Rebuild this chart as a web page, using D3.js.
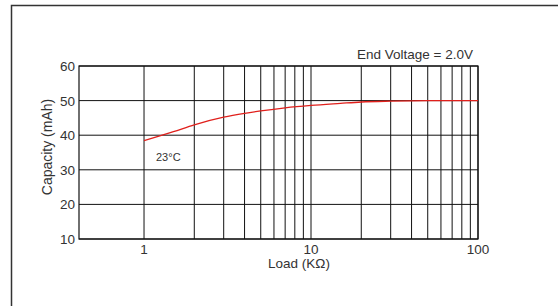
<!DOCTYPE html>
<html>
<head>
<meta charset="utf-8">
<script src="https://cdn.jsdelivr.net/npm/d3@7"></script>
<style>
body { margin: 0; background: #fff; }
text { font-family: "Liberation Sans", Arial, sans-serif; fill: #333; }
</style>
</head>
<body>
<svg width="558" height="306"></svg>
<script>
// curve
var loads = [1, 1.5, 2, 3, 4, 5, 7, 10, 15, 20, 30, 50, 100];
var capacity = [38.4, 41.0, 43.0, 45.2, 46.3, 47.0, 47.9, 48.6, 49.2, 49.6, 49.85, 50.0, 50.0];
var yTicks = [10, 20, 30, 40, 50, 60];
var xLabels = [1, 10, 100];
var gridLoads = [1, 2, 3, 4, 5, 6, 7, 8, 9, 10, 20, 30, 40, 50, 60, 70, 80, 90, 100];

var svg = d3.select("svg");

// outer frame
svg.append("path")
    .attr("d", "M11.5,320 V5.5 H570")
    .attr("fill", "none").attr("stroke", "#333").attr("stroke-width", 1.5);

var xScale = d3.scaleLog().domain([0.408, 100]).range([79, 478]);
var yScale = d3.scaleLinear().domain([10, 60]).range([239, 66]);

var grid = svg.append("g");
grid.selectAll("line.h").data(yTicks).enter().append("line")
    .attr("x1", 79).attr("x2", 478)
    .attr("y1", function(d){ return yScale(d); })
    .attr("y2", function(d){ return yScale(d); })
    .attr("stroke", "#111").attr("stroke-width", 1);
grid.selectAll("line.v").data(gridLoads).enter().append("line")
    .attr("y1", 66).attr("y2", 239)
    .attr("x1", function(d){ return xScale(d); })
    .attr("x2", function(d){ return xScale(d); })
    .attr("stroke", "#111").attr("stroke-width", 1);

// plot frame
svg.append("rect")
    .attr("x", 79).attr("y", 66).attr("width", 399).attr("height", 173)
    .attr("fill", "none").attr("stroke", "#111").attr("stroke-width", 1.2);

// y tick labels
svg.selectAll("text.yt").data(yTicks).enter().append("text")
    .attr("x", 75)
    .attr("y", function(d){ return yScale(d) + 5; })
    .attr("text-anchor", "end")
    .attr("font-size", 13.5)
    .text(function(d){ return d; });

// x tick labels
svg.selectAll("text.xt").data(xLabels).enter().append("text")
    .attr("x", function(d){ return xScale(d); })
    .attr("y", 254)
    .attr("text-anchor", "middle")
    .attr("font-size", 13.5)
    .text(function(d){ return d; });

var line = d3.line()
    .x(function(d, i){ return xScale(loads[i]); })
    .y(function(d){ return yScale(d); })
    .curve(d3.curveMonotoneX);

svg.append("path")
    .attr("d", line(capacity))
    .attr("fill", "none").attr("stroke", "#e0201c").attr("stroke-width", 1.3);

svg.append("text").attr("x", 299).attr("y", 268)
    .attr("text-anchor", "middle").attr("font-size", 13.5)
    .text("Load (KΩ)");

svg.append("text")
    .attr("transform", "translate(52,147) rotate(-90)")
    .attr("text-anchor", "middle").attr("font-size", 14)
    .text("Capacity (mAh)");

svg.append("text").attr("x", 473).attr("y", 59)
    .attr("text-anchor", "end").attr("font-size", 13.5)
    .text("End Voltage = 2.0V");

svg.append("text").attr("x", 156).attr("y", 161)
    .attr("font-size", 11)
    .text("23°C");
</script>
</body>
</html>
